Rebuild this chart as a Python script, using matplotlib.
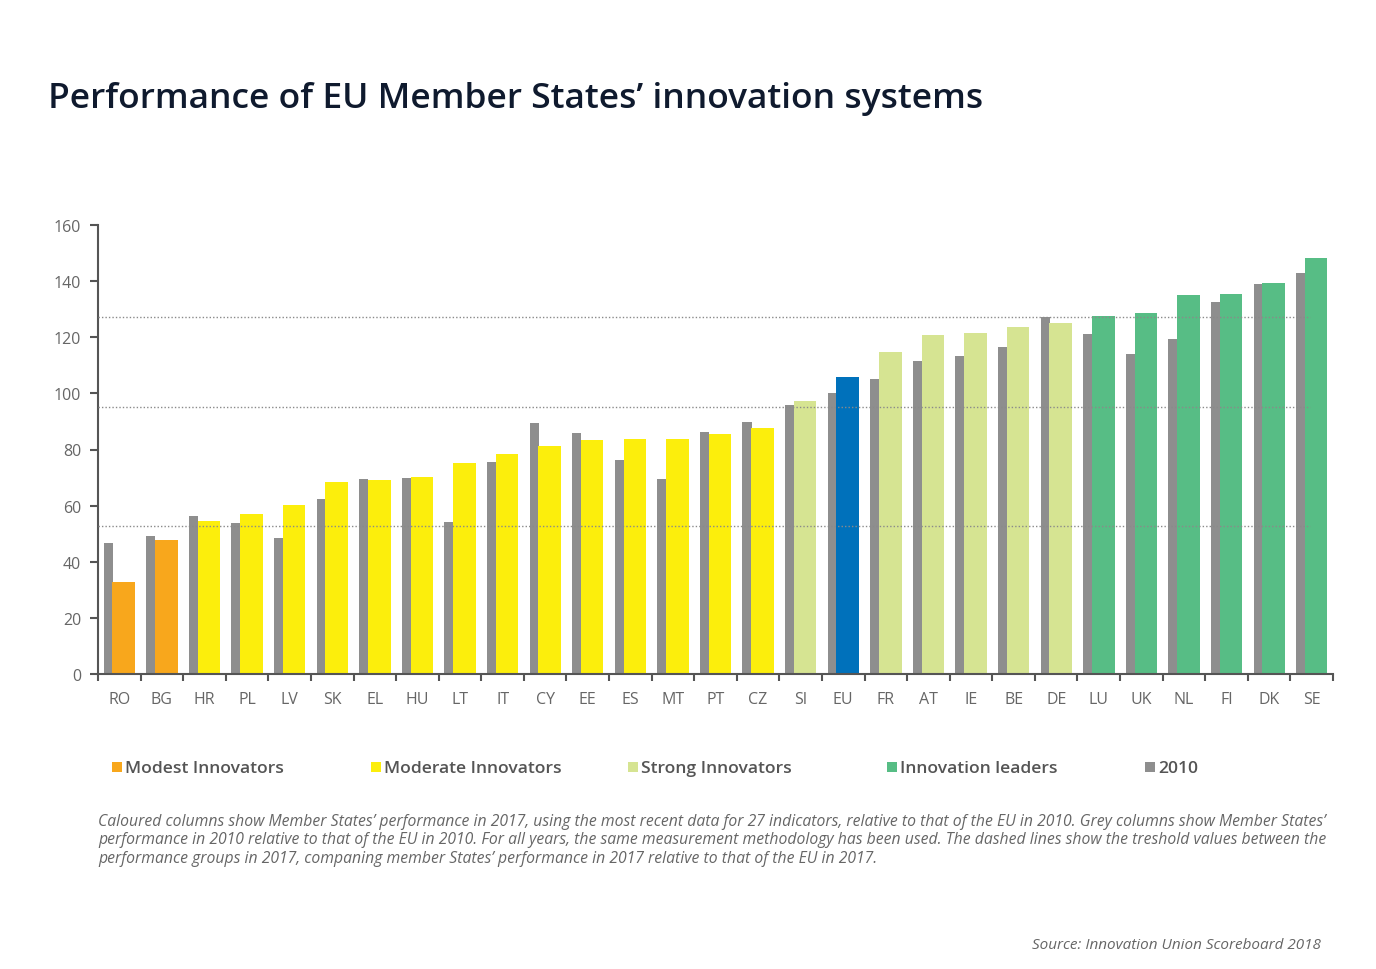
import matplotlib.pyplot as plt
from matplotlib.patches import Rectangle
import numpy as np

plt.rcParams['font.family'] = ['Open Sans', 'DejaVu Sans']

# data (performance relative to EU in 2010)
countries = ['RO', 'BG', 'HR', 'PL', 'LV', 'SK', 'EL', 'HU', 'LT', 'IT', 'CY', 'EE', 'ES', 'MT', 'PT',
             'CZ', 'SI', 'EU', 'FR', 'AT', 'IE', 'BE', 'DE', 'LU', 'UK', 'NL', 'FI', 'DK', 'SE']
perf_2017 = [32.7, 47.7, 54.4, 57.0, 60.3, 68.3, 69.1, 70.3, 75.2, 78.3, 81.4, 83.3, 83.7, 83.7, 85.4,
             87.7, 97.2, 106.0, 114.8, 120.9, 121.5, 123.7, 125.2, 127.7, 128.7, 135.2, 135.3, 139.5, 148.3]
perf_2010 = [46.7, 49.2, 56.2, 53.8, 48.5, 62.4, 69.5, 69.7, 54.3, 75.4, 89.3, 86.0, 76.3, 69.5, 86.1,
             89.8, 95.8, 100.0, 105.1, 111.7, 113.4, 116.5, 127.2, 121.2, 114.0, 119.4, 132.5, 138.9, 142.8]
groups = ['modest'] * 2 + ['moderate'] * 14 + ['strong'] + ['eu'] + ['strong'] * 5 + ['leader'] * 6
thresholds = [127.1, 95.3, 52.9]

group_colors = {'modest': '#f8a71c', 'moderate': '#fcee0c', 'strong': '#d6e492',
                'eu': '#0071bb', 'leader': '#57bd85'}
grey = '#8e8e8e'

legend_labels = ['Modest Innovators', 'Moderate Innovators', 'Strong Innovators', 'Innovation leaders', '2010']
legend_colors = [group_colors['modest'], group_colors['moderate'], group_colors['strong'],
                 group_colors['leader'], grey]

W, H = 1376, 970
fig = plt.figure(figsize=(W / 100, H / 100), dpi=100)
ax = fig.add_axes([98 / W, 1 - 675 / H, (1333 - 98) / W, (675 - 226) / H])

x = np.arange(len(countries))
colors = [group_colors[g] for g in groups]
# grey 2010 column sits just left of the coloured 2017 column, touching it
ax.bar(x - 0.258, perf_2010, width=0.216, color=grey, linewidth=0, zorder=2)
ax.bar(x + 0.105, perf_2017, width=0.53, color=colors, linewidth=0, zorder=2.1)

# threshold lines between performance groups
for t in thresholds:
    ax.hlines(t, -0.5, 27.95, colors='#8a8a8a', linestyles=(0, (1, 1.5)), linewidth=1.0, zorder=3)

ax.set_xlim(-0.5, len(countries) - 0.5)
ax.set_ylim(0, 160)
ax.set_yticks(np.arange(0, 161, 20))
ax.set_xticks(x)
ax.set_xticklabels(countries)
ax.set_xticks(np.arange(-0.5, len(countries), 1), minor=True)
ax.tick_params(axis='x', which='major', length=0, pad=12, labelsize=11.5, labelcolor='#666666')
ax.tick_params(axis='x', which='minor', length=5, width=1.5, color='#555555', direction='out')
ax.tick_params(axis='y', length=6, width=1.5, color='#555555', pad=6, labelsize=11.5, labelcolor='#666666')

for side in ['top', 'right']:
    ax.spines[side].set_visible(False)
for side in ['left', 'bottom']:
    ax.spines[side].set_color('#555555')
    ax.spines[side].set_linewidth(1.5)

# title
fig.text(48 / W, 1 - 99 / H, 'Performance of EU Member States\u2019 innovation systems',
         fontsize=25.5, fontweight='semibold', color='#0f1a2e', va='center', ha='left')

# legend
legend_x = [112, 371, 628, 887, 1145]
for lx, lab, col in zip(legend_x, legend_labels, legend_colors):
    fig.patches.append(Rectangle((lx / W, 1 - 773 / H), 10 / W, 10 / H, transform=fig.transFigure,
                                 facecolor=col, edgecolor='none'))
    fig.text((lx + 13) / W, 1 - 769 / H, lab, fontsize=12.6, fontweight='semibold',
             color='#555555', va='center', ha='left')

# footnote
notes = [
    'Caloured columns show Member States\u2019 performance in 2017, using the most recent data for 27 indicators, '
    'relative to that of the EU in 2010. Grey columns show Member States\u2019',
    'performance in 2010 relative to that of the EU in 2010. For all years, the same measurement methodology '
    'has been used. The dashed lines show the treshold values between the',
    'performance groups in 2017, companing member States\u2019 performance in 2017 relative to that of the EU in 2017.',
]
for i, line in enumerate(notes):
    fig.text(98 / W, 1 - (822 + 18.5 * i) / H, line, fontsize=11.3, fontstyle='italic',
             color='#666666', va='center', ha='left')

fig.text(1321 / W, 1 - 946 / H, 'Source: Innovation Union Scoreboard 2018', fontsize=11,
         fontstyle='italic', color='#666666', va='center', ha='right')

fig.savefig('out.png', dpi=100, facecolor='white')
